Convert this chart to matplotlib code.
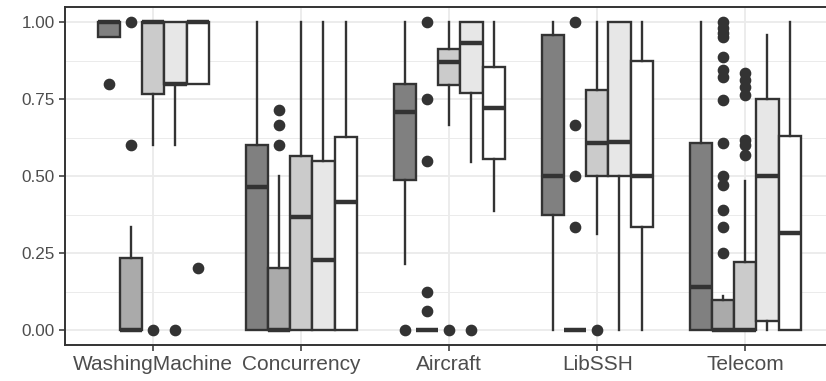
import matplotlib
matplotlib.use("Agg")
import matplotlib.pyplot as plt
from matplotlib.ticker import MultipleLocator

plt.rcParams['font.family'] = ['Liberation Sans', 'DejaVu Sans']

categories = ["WashingMachine", "Concurrency", "Aircraft", "LibSSH", "Telecom"]
fills = ["#808080", "#AAAAAA", "#CBCBCB", "#E7E7E7", "#FFFFFF"]

# per category, 5 series each
q1 = [
    [0.95, 0.0, 0.767, 0.80, 0.80],
    [0.0, 0.0, 0.0, 0.0, 0.0],
    [0.487, 0.0, 0.795, 0.768, 0.555],
    [0.373, 0.0, 0.50, 0.50, 0.333],
    [0.0, 0.0, 0.0, 0.03, 0.0],
]
med = [
    [1.0, 0.0, 1.0, 0.80, 1.0],
    [0.463, 0.0, 0.366, 0.226, 0.415],
    [0.707, 0.0, 0.869, 0.931, 0.72],
    [0.50, 0.0, 0.606, 0.61, 0.50],
    [0.139, 0.0, 0.0, 0.50, 0.314],
]
q3 = [
    [1.0, 0.233, 1.0, 1.0, 1.0],
    [0.60, 0.20, 0.566, 0.55, 0.626],
    [0.80, 0.0, 0.911, 1.0, 0.855],
    [0.958, 0.0, 0.779, 1.0, 0.873],
    [0.606, 0.097, 0.22, 0.749, 0.63],
]
whislo = [
    [0.95, 0.0, 0.60, 0.60, 0.80],
    [0.0, 0.0, 0.0, 0.0, 0.0],
    [0.214, 0.0, 0.667, 0.545, 0.387],
    [0.0, 0.0, 0.311, 0.0, 0.0],
    [0.0, 0.0, 0.0, 0.0, 0.0],
]
whishi = [
    [1.0, 0.333, 1.0, 1.0, 1.0],
    [1.0, 0.50, 1.0, 1.0, 1.0],
    [1.0, 0.0, 1.0, 1.0, 1.0],
    [1.0, 0.0, 1.0, 1.0, 1.0],
    [1.0, 0.11, 0.484, 0.958, 1.0],
]
fliers = [
    [[0.80], [0.60, 1.0], [0.0], [0.0], [0.20]],
    [[], [0.60, 0.667, 0.714], [], [], []],
    [[0.0], [1.0, 0.75, 0.55, 0.125, 0.0625], [0.0], [0.0], []],
    [[], [1.0, 0.667, 0.50, 0.333], [0.0], [], []],
    [[], [1.0, 0.979, 0.963, 0.952, 0.887, 0.844, 0.823, 0.747, 0.606,
          0.50, 0.471, 0.39, 0.333, 0.25],
     [0.833, 0.812, 0.79, 0.763, 0.617, 0.60, 0.568], [], []],
]

W, H = 826, 381
fig = plt.figure(figsize=(W / 100, H / 100), dpi=100)
left_px, right_px, top_px, bot_px = 64.5, 834.0, 6.6, 345.4
ax = fig.add_axes([left_px / W, (H - bot_px) / H,
                   (right_px - left_px) / W, (bot_px - top_px) / H])

dark = "#333333"
bw = 0.15
for i, cat in enumerate(categories):
    for j in range(5):
        pos = (i + 1) + (j - 2) * bw
        st = dict(q1=q1[i][j], med=med[i][j], q3=q3[i][j],
                  whislo=whislo[i][j], whishi=whishi[i][j],
                  fliers=fliers[i][j], label=cat)
        ax.bxp([st], positions=[pos], widths=bw, patch_artist=True,
               showcaps=False,
               boxprops=dict(facecolor=fills[j], edgecolor=dark, linewidth=1.7),
               whiskerprops=dict(color=dark, linewidth=1.7),
               medianprops=dict(color=dark, linewidth=3.2, solid_capstyle='butt'),
               flierprops=dict(marker='o', markerfacecolor=dark,
                               markeredgecolor=dark, markersize=7.4),
               manage_ticks=False, zorder=3)

ax.set_xlim(0.4, 5.6)
ax.set_ylim(-0.05, 1.05)
ax.set_xticks(range(1, 6))
ax.set_xticklabels(categories)
ax.yaxis.set_minor_locator(MultipleLocator(0.125))
ax.set_yticks([0, 0.25, 0.5, 0.75, 1.0])
ax.set_yticklabels(["0.00", "0.25", "0.50", "0.75", "1.00"])

ax.set_axisbelow(True)
ax.grid(which='major', axis='both', color='#EBEBEB', linewidth=1.3)
ax.grid(which='minor', axis='y', color='#EBEBEB', linewidth=0.7)
ax.tick_params(axis='both', which='major', colors='#333333', length=4,
               width=1.1, labelcolor='#4D4D4D', pad=3)
ax.tick_params(axis='y', which='major', labelsize=12.3)
ax.tick_params(axis='x', which='major', labelsize=15)
ax.tick_params(axis='y', which='minor', length=0)
for s in ax.spines.values():
    s.set_color('#333333')
    s.set_linewidth(1.4)

fig.savefig("out.png", dpi=100)
